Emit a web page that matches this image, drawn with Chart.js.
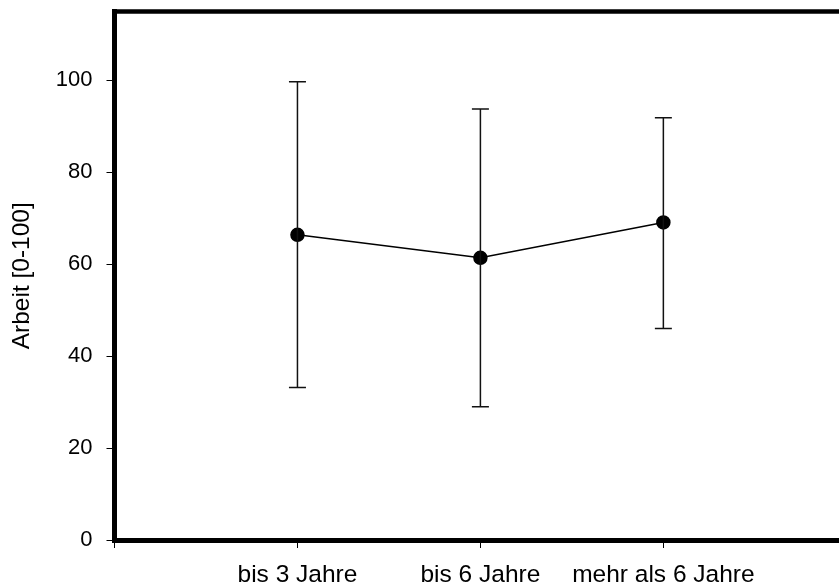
<!DOCTYPE html>
<html>
<head>
<meta charset="utf-8">
<script src="https://cdn.jsdelivr.net/npm/chart.js@4"></script>
<style>
  html, body { margin: 0; padding: 0; background: #fff; }
  #wrap { width: 839px; height: 585px; }
</style>
</head>
<body>
<div id="wrap"><canvas id="chart" width="839" height="585"></canvas></div>
<script>
// values
const categories = ["bis 3 Jahre", "bis 6 Jahre", "mehr als 6 Jahre"];
const means = [66.4, 61.4, 69.1];
const upper = [99.7, 93.8, 91.9];
const lower = [33.2, 29.0, 46.0];
const yTicks = [0, 20, 40, 60, 80, 100];

const FONT = "'Liberation Sans', Arial, sans-serif";

// error bars with caps, drawn through the scales
const errorBars = {
  id: "errorBars",
  afterDatasetsDraw(chart) {
    const ctx = chart.ctx;
    const xs = chart.scales.x, ys = chart.scales.y;
    ctx.save();
    ctx.strokeStyle = "#111";
    ctx.lineWidth = 1.5;
    means.forEach((m, i) => {
      const x = xs.getPixelForValue(i + 1);
      const yt = ys.getPixelForValue(upper[i]);
      const yb = ys.getPixelForValue(lower[i]);
      ctx.beginPath();
      ctx.moveTo(x, yt); ctx.lineTo(x, yb);
      ctx.moveTo(x - 8.5, yt); ctx.lineTo(x + 8.5, yt);
      ctx.moveTo(x - 8.5, yb); ctx.lineTo(x + 8.5, yb);
      ctx.stroke();
    });
    ctx.restore();
  }
};

// the frame has a thick top edge as well
const topEdge = {
  id: "topEdge",
  afterDraw(chart) {
    const a = chart.chartArea, ctx = chart.ctx;
    ctx.save();
    ctx.strokeStyle = "#000";
    ctx.lineWidth = 4.5;
    ctx.beginPath();
    ctx.moveTo(a.left - 2.5, a.top);
    ctx.lineTo(a.right, a.top);
    ctx.stroke();
    ctx.restore();
  }
};

new Chart(document.getElementById("chart"), {
  type: "line",
  data: {
    datasets: [{
      data: means.map((m, i) => ({ x: i + 1, y: m })),
      borderColor: "#000",
      borderWidth: 1.5,
      pointBackgroundColor: "#000",
      pointBorderColor: "#000",
      pointRadius: 6.5,
      fill: false,
      tension: 0
    }]
  },
  options: {
    responsive: false,
    animation: false,
    layout: { autoPadding: false, padding: { top: 11.5, right: 0, left: 0, bottom: 0 } },
    plugins: { legend: { display: false }, tooltip: { enabled: false } },
    scales: {
      x: {
        type: "linear",
        min: 0,
        max: 3.96,
        afterFit: s => { s.height = 45; s.paddingLeft = 0; s.paddingRight = 0; },
        afterBuildTicks: s => { s.ticks = [0, 1, 2, 3].map(v => ({ value: v })); },
        grid: { drawOnChartArea: false, drawTicks: true, tickLength: 8, color: "#000", lineWidth: 1 },
        border: { display: true, color: "#000", width: 5 },
        ticks: {
          color: "#000",
          padding: 13,
          maxRotation: 0,
          autoSkip: false,
          font: { family: FONT, size: 24.5 },
          callback: v => categories[v - 1] || ""
        }
      },
      y: {
        min: 0,
        max: 115,
        afterFit: s => { s.width = 114.5; s.paddingTop = 0; s.paddingBottom = 0; },
        afterBuildTicks: s => { s.ticks = yTicks.map(v => ({ value: v })); },
        grid: { drawOnChartArea: false, drawTicks: true, tickLength: 8, color: "#000", lineWidth: 1 },
        border: { display: true, color: "#000", width: 5 },
        ticks: {
          color: "#000",
          padding: 14,
          font: { family: FONT, size: 22 }
        },
        title: {
          display: true,
          text: "Arbeit [0-100]",
          color: "#000",
          padding: { top: 8, bottom: 0 },
          font: { family: FONT, size: 24.5 }
        }
      }
    }
  },
  plugins: [errorBars, topEdge]
});
</script>
</body>
</html>
